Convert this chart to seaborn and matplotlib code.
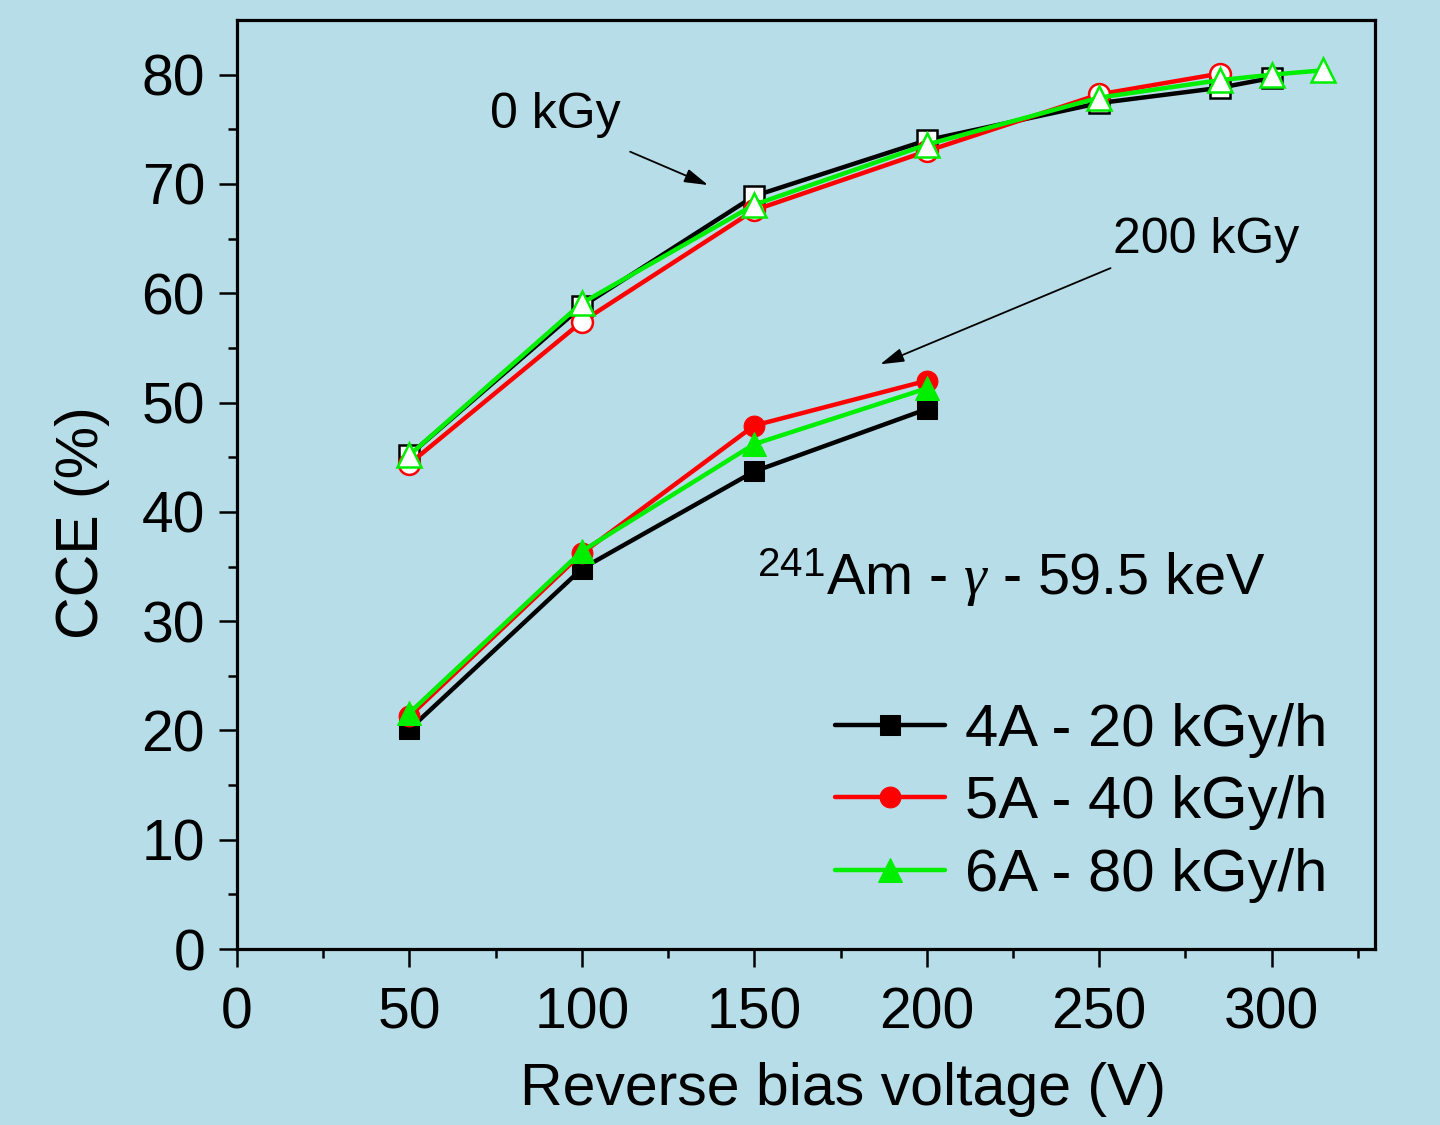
import matplotlib
matplotlib.use("Agg")
import matplotlib.pyplot as plt
import seaborn as sns
import numpy as np
import pandas as pd

# ---- data ----
v_4a_0 = [50, 100, 150, 200, 250, 285, 300]
cce_4a_0 = [45.2, 58.8, 68.9, 74.0, 77.4, 78.8, 79.7]
v_5a_0 = [50, 100, 150, 200, 250, 285]
cce_5a_0 = [44.4, 57.4, 67.6, 73.0, 78.2, 80.1]
v_6a_0 = [50, 100, 150, 200, 250, 285, 300, 315]
cce_6a_0 = [45.2, 59.1, 68.1, 73.6, 77.9, 79.5, 80.0, 80.4]

v_200 = [50, 100, 150, 200]
cce_4a_200 = [20.1, 34.8, 43.7, 49.4]
cce_5a_200 = [21.3, 36.2, 47.9, 52.0]
cce_6a_200 = [21.6, 36.4, 46.2, 51.3]

labels = ["4A - 20 kGy/h", "5A - 40 kGy/h", "6A - 80 kGy/h"]
colors = ["#000000", "#FF0000", "#00EE00"]
markers = ["s", "o", "^"]

bg = "#B7DDE8"
sns.set_theme(style="ticks")
plt.rcParams['font.family'] = ['Liberation Sans', 'DejaVu Sans']
plt.rcParams['mathtext.fontset'] = 'custom'
plt.rcParams['mathtext.rm'] = 'Liberation Sans'
plt.rcParams['mathtext.it'] = 'Liberation Serif:italic'
plt.rcParams['text.color'] = 'black'
plt.rcParams['axes.labelcolor'] = 'black'
plt.rcParams['xtick.color'] = 'black'
plt.rcParams['ytick.color'] = 'black'

fig = plt.figure(figsize=(14.4, 11.25), dpi=100, facecolor=bg)
ax = fig.add_axes([0.1646, 0.1564, 0.7903, 0.8258])
ax.set_facecolor(bg)

open_sets = [(v_4a_0, cce_4a_0), (v_5a_0, cce_5a_0), (v_6a_0, cce_6a_0)]
filled_sets = [cce_4a_200, cce_5a_200, cce_6a_200]
msz = [14, 15, 17]

for i in range(3):
    xs, ys = open_sets[i]
    sns.lineplot(x=xs, y=ys, ax=ax, color=colors[i], linewidth=3.2,
                 marker=markers[i], markersize=msz[i], markerfacecolor="white",
                 markeredgecolor=colors[i], markeredgewidth=1.8, legend=False)
for i in range(3):
    sns.lineplot(x=v_200, y=filled_sets[i], ax=ax, color=colors[i], linewidth=3.2,
                 marker=markers[i], markersize=msz[i], markerfacecolor=colors[i],
                 markeredgecolor=colors[i], label=labels[i])

ax.set_xlim(0, 330)
ax.set_ylim(0, 85)
ax.set_xticks([0, 50, 100, 150, 200, 250, 300])
ax.set_xticks(np.arange(25, 330, 50), minor=True)
ax.set_yticks(np.arange(0, 81, 10))
ax.set_yticks(np.arange(5, 85, 10), minor=True)

for s in ax.spines.values():
    s.set_linewidth(2.3)
    s.set_color("black")
ax.tick_params(which="major", direction="out", length=13, width=1.8,
               labelsize=41, colors="black")
ax.tick_params(axis="y", which="major", pad=10)
ax.tick_params(axis="x", which="major", pad=14)
ax.tick_params(which="minor", direction="out", length=6.5, width=1.8, colors="black")

ax.set_xlabel("Reverse bias voltage (V)", fontsize=42.5, color="black")
ax.set_ylabel("CCE (%)", fontsize=42.5, color="black")
ax.xaxis.set_label_coords(0.5325, -0.122)
ax.yaxis.set_label_coords(-0.112, 0.4586)

ax.text(73.4, 76.3, "0 kGy", fontsize=36, va="center", ha="left")
ax.annotate("", xy=(136.6, 69.9), xytext=(114.0, 72.95),
            arrowprops=dict(arrowstyle="-|>,head_length=1.2,head_width=0.35",
                            color="black", lw=1.3, shrinkA=0, shrinkB=0))
ax.text(254.1, 64.9, "200 kGy", fontsize=36, va="center", ha="left")
ax.annotate("", xy=(186.5, 53.5), xytext=(253.3, 62.3),
            arrowprops=dict(arrowstyle="-|>,head_length=1.2,head_width=0.35",
                            color="black", lw=1.3, shrinkA=0, shrinkB=0))
ax.text(150.9, 34.0, r"$^{\mathrm{241}}$Am - $\gamma$ - 59.5 keV", fontsize=41.5,
        va="center", ha="left")

leg = ax.legend(loc="lower right", bbox_to_anchor=(0.958, 0.05), frameon=False,
                fontsize=43, handlelength=1.85, handletextpad=0.33,
                labelspacing=0.29, borderaxespad=0, borderpad=0)

fig.savefig("out.png", dpi=100, facecolor=bg)
